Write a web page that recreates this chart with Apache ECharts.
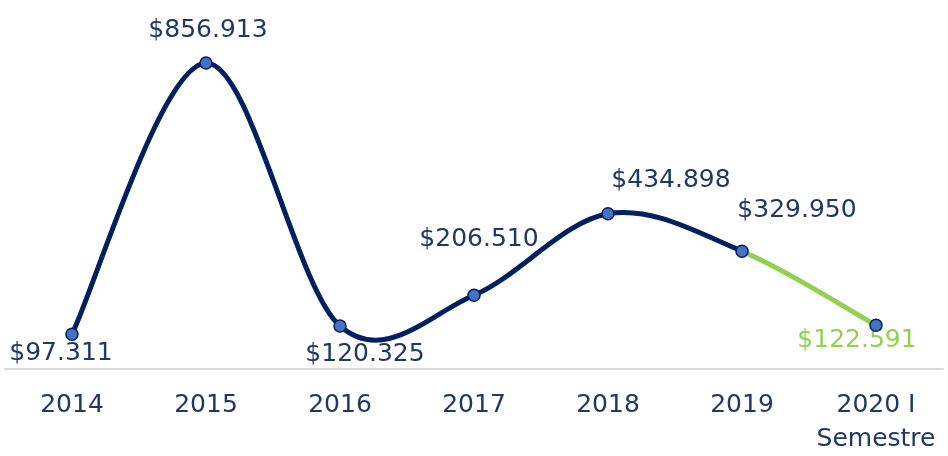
<!DOCTYPE html>
<html>
<head>
<meta charset="utf-8">
<script src="https://cdn.jsdelivr.net/npm/echarts@6/dist/echarts.min.js"></script>
<style>html,body{margin:0;padding:0;background:#fff;}#c{width:948px;height:456px;}</style>
</head>
<body>
<div id="c"></div>
<script>
const categories = ['2014', '2015', '2016', '2017', '2018', '2019', '2020 I\nSemestre'];
const values = [97311, 856913, 120325, 206510, 434898, 329950, 122591];
const labelColors = ['#1f3864', '#1f3864', '#1f3864', '#1f3864', '#1f3864', '#1f3864', '#92d050'];
const labelOffsets = [[-11, 19], [2, -33], [25, 28], [5, -56], [63, -33], [55, -41], [-19, 15]];
const segmentColors = ['#002060', '#002060', '#002060', '#002060', '#002060', '#92d050'];

const NAVY = '#002060';
const FONT = 'DejaVu Sans';
const TENSION = 1 / 6;

function fmt(v) {
  return '$' + String(v).replace(/\B(?=(\d{3})+(?!\d))/g, '.');
}

function renderCurve(params, api) {
  if (params.dataIndex !== 0) return null;
  const pts = values.map((v, i) => api.coord([i, v]));
  const n = pts.length;
  const children = [];
  for (let i = 0; i < n - 1; i++) {
    const p0 = pts[Math.max(0, i - 1)];
    const p1 = pts[i];
    const p2 = pts[i + 1];
    const p3 = pts[Math.min(n - 1, i + 2)];
    children.push({
      type: 'bezierCurve',
      shape: {
        x1: p1[0], y1: p1[1],
        cpx1: p1[0] + (p2[0] - p0[0]) * TENSION,
        cpy1: p1[1] + (p2[1] - p0[1]) * TENSION,
        cpx2: p2[0] - (p3[0] - p1[0]) * TENSION,
        cpy2: p2[1] - (p3[1] - p1[1]) * TENSION,
        x2: p2[0], y2: p2[1]
      },
      style: {stroke: segmentColors[i], lineWidth: 5, fill: null, lineCap: 'round'},
      z2: segmentColors[i] === NAVY ? 1 : 2
    });
  }
  for (let i = 0; i < n; i++) {
    children.push({
      type: 'text',
      x: pts[i][0] + labelOffsets[i][0],
      y: pts[i][1] + labelOffsets[i][1],
      style: {
        text: fmt(values[i]),
        fill: labelColors[i],
        fontFamily: FONT,
        fontSize: 25,
        align: 'center',
        verticalAlign: 'middle'
      },
      z2: 10
    });
  }
  return {type: 'group', children: children};
}

const chart = echarts.init(document.getElementById('c'), null, {renderer: 'canvas'});
chart.setOption({
  animation: false,
  backgroundColor: '#ffffff',
  grid: {left: 5, right: 5, top: 12, bottom: 84, containLabel: false},
  xAxis: {
    type: 'category',
    data: categories,
    boundaryGap: true,
    axisLine: {lineStyle: {color: '#d9d9d9', width: 2}},
    axisTick: {show: false},
    axisLabel: {
      color: '#1f3864', fontFamily: FONT, fontSize: 25, lineHeight: 34, margin: 19, interval: 0
    }
  },
  yAxis: {
    type: 'value', min: 0, max: 1000000,
    show: false,
    splitLine: {show: false}
  },
  series: [
    {
      type: 'custom',
      clip: false,
      data: values.map((v, i) => [i, v]),
      renderItem: renderCurve,
      z: 2
    },
    {
      type: 'line',
      data: values,
      lineStyle: {opacity: 0},
      symbol: 'circle',
      symbolSize: 12,
      itemStyle: {color: '#4472c4', borderColor: NAVY, borderWidth: 1.5},
      z: 3
    }
  ]
});
</script>
</body>
</html>
